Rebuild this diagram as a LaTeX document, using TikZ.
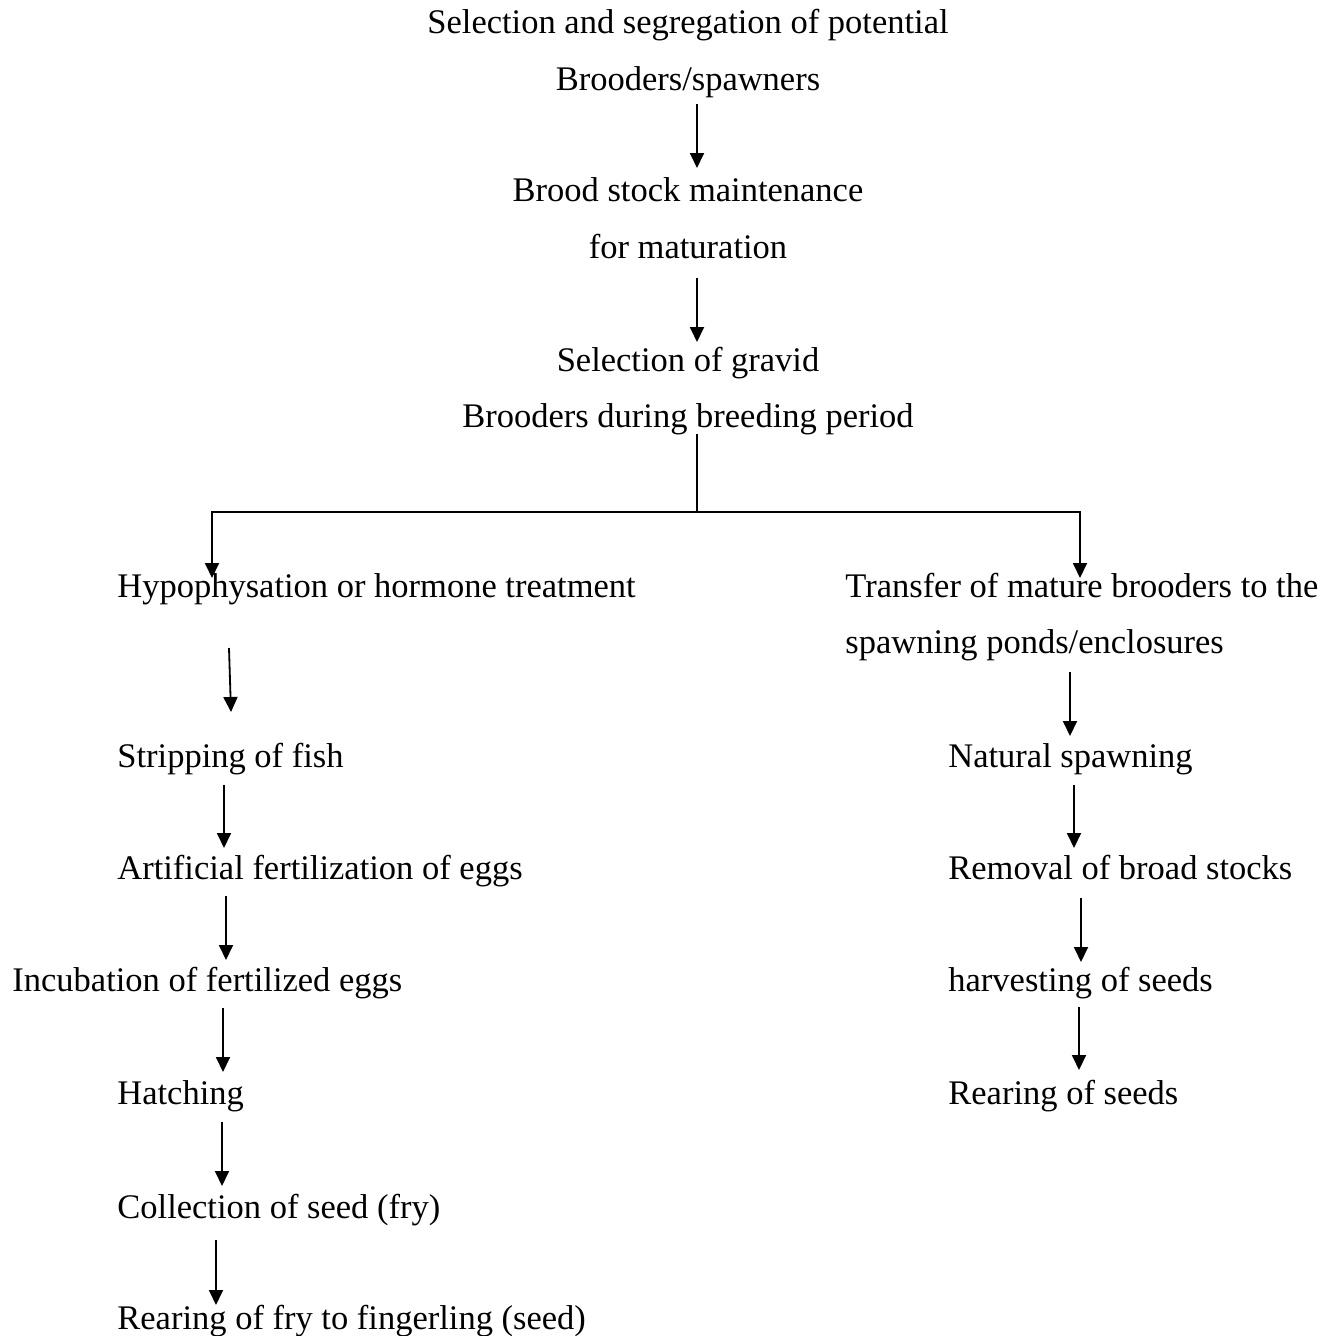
\documentclass[tikz,border=0pt]{standalone}
\usepackage{fontspec}
\setmainfont{Liberation Serif}
\usepackage{tikz}
\usetikzlibrary{arrows.meta, positioning, calc}

\begin{document}
\begin{tikzpicture}[
    x=0.5pt, y=-0.5pt,
    stage/.style={inner sep=0pt, font=\fontsize{17.25pt}{20pt}\selectfont},
    mid/.style={stage, anchor=base},
    left/.style={stage, anchor=base west},
    link/.style={line width=0.9pt},
    arrow/.style={-{Triangle[width=7pt,length=7.5pt]}, line width=0.9pt}
]
\useasboundingbox (0,0) rectangle (1340,1335);

% Nodes
\node[mid] (potential) at (688,33) {Selection and segregation of potential};
\node[mid] (spawners) at (688,90) {Brooders/spawners};
\node[mid] (maint) at (688,201) {Brood stock maintenance};
\node[mid] (maturation) at (688,258) {for maturation};
\node[mid] (gravid) at (688,371) {Selection of gravid};
\node[mid] (period) at (688,427) {Brooders during breeding period};

\node[left] (hypo) at (117,597) {Hypophysation or hormone treatment};
\node[left] (strip) at (117,767) {Stripping of fish};
\node[left] (artif) at (117,879) {Artificial fertilization of eggs};
\node[left] (incub) at (12,991) {Incubation of fertilized eggs};
\node[left] (hatch) at (117,1104) {Hatching};
\node[left] (collect) at (117,1218) {Collection of seed (fry)};
\node[left] (rearfry) at (117,1329) {Rearing of fry to fingerling (seed)};

\node[left] (transfer) at (845,597) {Transfer of mature brooders to the};
\node[left] (ponds) at (845,653) {spawning ponds/enclosures};
\node[left] (natural) at (948,767) {Natural spawning};
\node[left] (removal) at (948,879) {Removal of broad stocks};
\node[left] (harvest) at (948,991) {harvesting of seeds};
\node[left] (rearseed) at (948,1104) {Rearing of seeds};

\coordinate (split) at (697,512);

% Arrows
\draw[arrow] ($(spawners.base)+(9,14)$) -- ($(maint.base)+(9,-33)$);
\draw[arrow] ($(maturation.base)+(9,20)$) -- ($(gravid.base)+(9,-29)$);
\draw[link] ($(period.base)+(9,7)$) -- (split);
\draw[arrow] (split) -| ($(hypo.base west)+(95,-19)$);
\draw[arrow] (split) -| ($(transfer.base west)+(235,-19)$);

\draw[arrow] ($(hypo.base west)+(112,51)$) -- ($(strip.base west)+(114,-55)$);
\draw[arrow] ($(strip.base west)+(107,18)$) -- ($(artif.base west)+(107,-31)$);
\draw[arrow] ($(artif.base west)+(109,17)$) -- ($(incub.base west)+(214,-31)$);
\draw[arrow] ($(incub.base west)+(211,17)$) -- ($(hatch.base west)+(106,-32)$);
\draw[arrow] ($(hatch.base west)+(105,18)$) -- ($(collect.base west)+(105,-32)$);
\draw[arrow] ($(collect.base west)+(99,22)$) -- ($(rearfry.base west)+(99,-24)$);

\draw[arrow] ($(ponds.base west)+(225,19)$) -- ($(natural.base west)+(122,-31)$);
\draw[arrow] ($(natural.base west)+(126,18)$) -- ($(removal.base west)+(126,-31)$);
\draw[arrow] ($(removal.base west)+(133,19)$) -- ($(harvest.base west)+(133,-29)$);
\draw[arrow] ($(harvest.base west)+(131,16)$) -- ($(rearseed.base west)+(131,-34)$);

\end{tikzpicture}
\end{document}
